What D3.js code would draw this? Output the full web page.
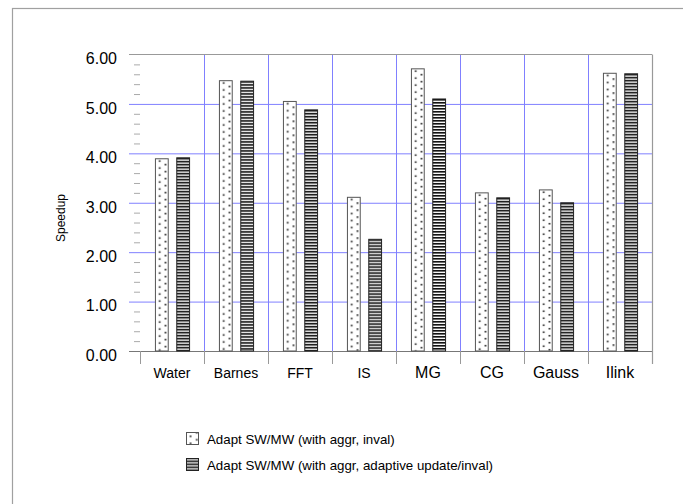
<!DOCTYPE html>
<html>
<head>
<meta charset="utf-8">
<script src="https://cdn.jsdelivr.net/npm/d3@7"></script>
<style>
  html, body { margin: 0; padding: 0; background: #fff; }
  svg { display: block; font-family: "Liberation Sans", Arial, sans-serif; }
</style>
</head>
<body>
<script>
// ---- data ----
const categories = ["Water", "Barnes", "FFT", "IS", "MG", "CG", "Gauss", "Ilink"];
const seriesNames = ["Adapt SW/MW (with aggr, inval)", "Adapt SW/MW (with aggr, adaptive update/inval)"];
const inval = [3.89, 5.47, 5.05, 3.11, 5.71, 3.20, 3.26, 5.62];
const adaptive = [3.91, 5.46, 4.88, 2.26, 5.10, 3.10, 3.00, 5.61];
const yTicks = [0, 1, 2, 3, 4, 5, 6];
const yTickLabels = ["0.00", "1.00", "2.00", "3.00", "4.00", "5.00", "6.00"];
const yTitle = "Speedup";

// ---- layout ----
const W = 683, H = 504;
const plot = { left: 140, right: 652, top: 54.5, bottom: 351 };
const labelSize = { Water: 14, Barnes: 14, FFT: 14, IS: 14, MG: 16, CG: 16, Gauss: 16, Ilink: 16 };
const FONT = "'Liberation Sans', Arial, sans-serif";

const svg = d3.select("body").append("svg").attr("width", W).attr("height", H);
const defs = svg.append("defs");

// outer frame
svg.append("rect").attr("x", 12.5).attr("y", 8.5).attr("width", 1000).attr("height", 1000)
  .attr("fill", "none").attr("stroke", "#a0a0a0").attr("stroke-width", 1.2);

// scales
const x = d3.scaleBand().domain(categories).range([plot.left, plot.right]).padding(0);
const xi = d3.scaleBand().domain([0, 1]).range([0, x.bandwidth()]).paddingInner(0.4).paddingOuter(0.7);
const y = d3.scaleLinear().domain([0, 6]).range([plot.bottom, plot.top]);

// horizontal gridlines (major)
const gGrid = svg.append("g").attr("transform", `translate(${plot.right},0)`)
  .call(d3.axisLeft(y).tickValues([1, 2, 3, 4, 5]).tickSize(plot.right - 129).tickFormat(""));
gGrid.select(".domain").remove();
gGrid.selectAll("line").attr("stroke", "#8080ff").attr("stroke-width", 1);

// vertical gridlines
svg.append("g").selectAll("line").data(categories.slice(1)).join("line")
  .attr("x1", d => x(d) + 0.5).attr("x2", d => x(d) + 0.5)
  .attr("y1", plot.top).attr("y2", plot.bottom)
  .attr("stroke", "#8080ff").attr("stroke-width", 1);

// minor ticks
const minor = d3.range(0, 6.0001, 0.2).filter(v => Math.abs(v - Math.round(v)) > 1e-6);
const gMinor = svg.append("g").attr("transform", `translate(${plot.left},0)`)
  .call(d3.axisLeft(y).tickValues(minor).tickSize(6).tickFormat(""));
gMinor.select(".domain").remove();
gMinor.selectAll("line").attr("stroke", "#aaa");

// top border & baseline
svg.append("line").attr("x1", 129).attr("x2", plot.right).attr("y1", y(6)).attr("y2", y(6))
  .attr("stroke", "#999").attr("stroke-width", 1.2);
svg.append("line").attr("x1", 129).attr("x2", plot.right).attr("y1", y(0) + 0.5).attr("y2", y(0) + 0.5)
  .attr("stroke", "#777").attr("stroke-width", 1);
svg.append("line").attr("x1", plot.right + 0.5).attr("x2", plot.right + 0.5).attr("y1", y(6)).attr("y2", plot.bottom + 13)
  .attr("stroke", "#999").attr("stroke-width", 1.2);

// category ticks below axis
svg.append("g").selectAll("line").data(categories).join("line")
  .attr("x1", d => x(d) + 0.5).attr("x2", d => x(d) + 0.5)
  .attr("y1", plot.bottom).attr("y2", plot.bottom + 13)
  .attr("stroke", "#999").attr("stroke-width", 1);

// y tick labels
const gY = svg.append("g").attr("transform", `translate(117,0)`)
  .call(d3.axisLeft(y).tickValues(yTicks).tickSize(0).tickPadding(0)
    .tickFormat((d, i) => yTickLabels[i]));
gY.select(".domain").remove();
gY.selectAll("text").attr("font-size", 16).attr("fill", "#000")
  .attr("font-family", FONT).attr("dy", "0.58em");

// x labels
const gX = svg.append("g").attr("transform", `translate(0,${plot.bottom})`)
  .call(d3.axisBottom(x).tickSize(0).tickPadding(0));
gX.select(".domain").remove();
gX.selectAll("text").attr("font-size", d => labelSize[d]).attr("fill", "#000")
  .attr("font-family", FONT).attr("dy", null).attr("y", 27);

// per-bar patterns so the texture is anchored to each bar
function makeDots(id, ox, oy) {
  const p = defs.append("pattern").attr("id", id).attr("patternUnits", "userSpaceOnUse")
    .attr("x", ox).attr("y", oy).attr("width", 12).attr("height", 7);
  p.append("rect").attr("width", 12).attr("height", 7).attr("fill", "#fff");
  p.append("rect").attr("x", 3.5).attr("y", 1.5).attr("width", 1.6).attr("height", 1.6).attr("fill", "#111");
  p.append("rect").attr("x", 9.3).attr("y", 5).attr("width", 1.6).attr("height", 1.6).attr("fill", "#111");
}
function makeStripes(id, ox, oy) {
  const p = defs.append("pattern").attr("id", id).attr("patternUnits", "userSpaceOnUse")
    .attr("x", ox).attr("y", oy).attr("width", 4).attr("height", 3);
  p.append("rect").attr("width", 4).attr("height", 3).attr("fill", "#fff");
  p.append("rect").attr("y", 0).attr("width", 4).attr("height", 1).attr("fill", "#111");
  p.append("rect").attr("y", 1).attr("width", 4).attr("height", 1).attr("fill", "#666");
}
const makers = [makeDots, makeStripes];
const strokes = ["#555", "#222"];
const seriesVals = [inval, adaptive];

seriesVals.forEach((vals, s) => {
  svg.append("g").selectAll("rect").data(categories).join("rect")
    .each(function (d, i) {
      const bx = x(d) + xi(s) + 0.5, by = y(vals[i]);
      const id = `pat-${s}-${i}`;
      makers[s](id, bx, by);
      d3.select(this)
        .attr("x", bx).attr("width", xi.bandwidth())
        .attr("y", by).attr("height", y(0) - by)
        .attr("fill", `url(#${id})`).attr("stroke", strokes[s]).attr("stroke-width", 1);
    });
});

// y title
svg.append("text").attr("transform", "translate(65,218) rotate(-90)")
  .attr("text-anchor", "middle").attr("font-size", 12).attr("fill", "#000")
  .attr("font-family", FONT).text(yTitle);

// legend
const leg = svg.append("g").attr("transform", "translate(186,432)");
seriesNames.forEach((name, i) => {
  const g = leg.append("g").attr("transform", `translate(0,${i * 26})`);
  makers[i](`leg-${i}`, 186.5, 432.5 + i * 26);
  g.append("rect").attr("x", 0.5).attr("y", 0.5).attr("width", 12).attr("height", 12)
    .attr("fill", `url(#leg-${i})`).attr("stroke", strokes[i]).attr("stroke-width", 1);
  g.append("text").attr("x", 21).attr("y", 11.5).attr("font-size", 13.3).attr("fill", "#000")
    .attr("font-family", FONT).text(name);
});
</script>
</body>
</html>
